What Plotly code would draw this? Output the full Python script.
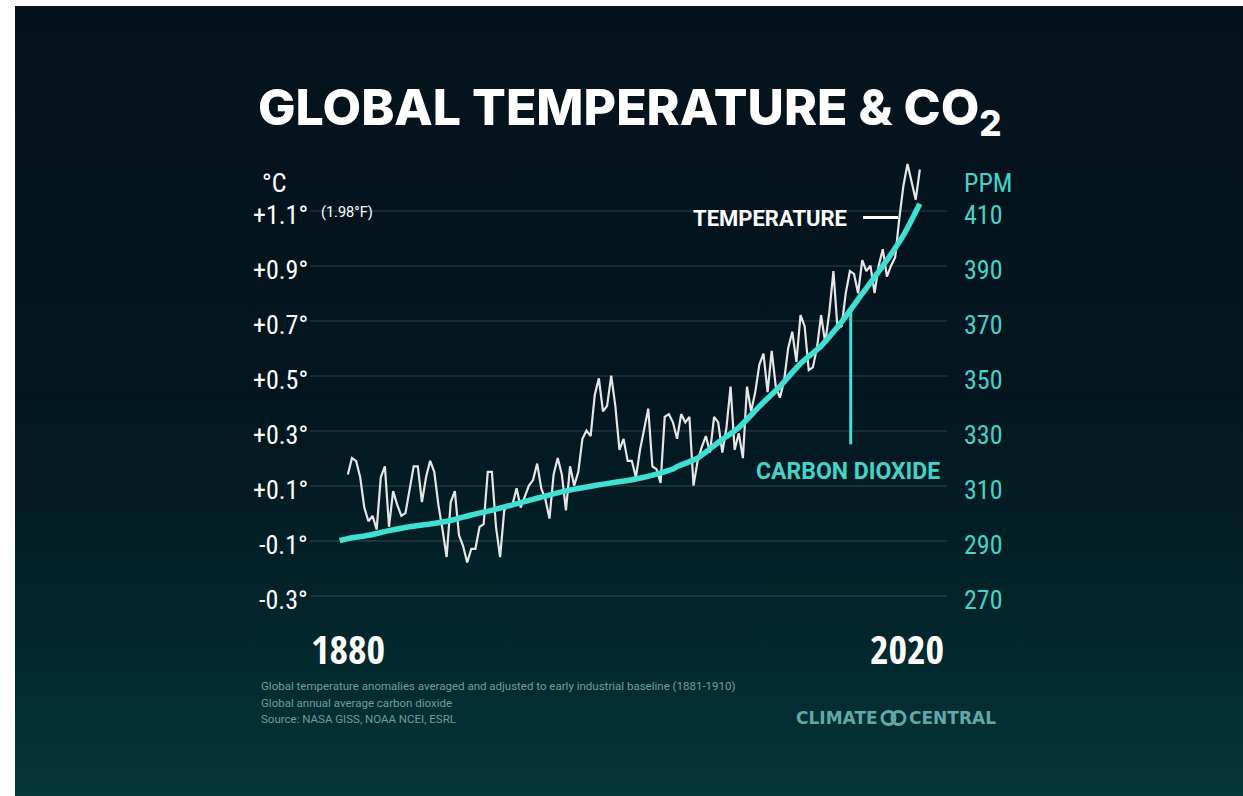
import base64
import plotly.graph_objects as go

# ---------------- data ----------------
temp_years = list(range(1880, 2020))
temp_anom = [
    0.14, 0.20, 0.19, 0.13, 0.02, -0.03, -0.01, -0.06, 0.13, 0.17,
    -0.05, 0.08, 0.03, -0.01, 0.00, 0.08, 0.17, 0.17, 0.04, 0.13,
    0.19, 0.15, 0.03, -0.06, -0.16, 0.04, 0.08, -0.08, -0.12, -0.18,
    -0.13, -0.13, -0.05, -0.04, 0.15, 0.15, -0.05, -0.16, 0.01, 0.03,
    0.03, 0.09, 0.02, 0.06, 0.10, 0.12, 0.18, 0.09, 0.05, -0.02,
    0.14, 0.20, 0.14, 0.01, 0.17, 0.10, 0.15, 0.27, 0.30, 0.28,
    0.43, 0.49, 0.37, 0.39, 0.50, 0.39, 0.23, 0.27, 0.19, 0.19,
    0.13, 0.23, 0.31, 0.38, 0.17, 0.16, 0.11, 0.35, 0.36, 0.33,
    0.27, 0.36, 0.33, 0.35, 0.10, 0.19, 0.24, 0.28, 0.22, 0.35,
    0.33, 0.22, 0.31, 0.46, 0.23, 0.29, 0.20, 0.46, 0.37, 0.44,
    0.54, 0.58, 0.44, 0.59, 0.46, 0.42, 0.48, 0.60, 0.66, 0.55,
    0.72, 0.68, 0.52, 0.53, 0.60, 0.72, 0.62, 0.73, 0.88, 0.67,
    0.68, 0.80, 0.88, 0.87, 0.80, 0.92, 0.88, 0.90, 0.80, 0.90,
    0.96, 0.86, 0.90, 0.93, 1.07, 1.19, 1.27, 1.21, 1.14, 1.25,
]

co2_years = [1878, 1880, 1885, 1890, 1895, 1900, 1905, 1910, 1915, 1920,
             1925, 1930, 1935, 1940, 1945, 1950, 1955, 1959, 1960, 1965,
             1970, 1975, 1980, 1985, 1990, 1995, 2000, 2005, 2010, 2015, 2019]
co2_ppm = [290.0, 290.7, 291.9, 293.6, 295.0, 296.0, 297.3, 299.3, 301.0, 303.0,
           305.0, 307.0, 308.7, 310.0, 311.2, 312.4, 314.2, 316.0, 316.9, 320.0,
           325.7, 331.1, 338.8, 346.1, 354.4, 360.8, 369.6, 379.8, 389.9, 401.0, 412.5]

temp_tick_vals = [-0.3, -0.1, 0.1, 0.3, 0.5, 0.7, 0.9, 1.1]
temp_tick_text = ["-0.3°", "-0.1°", "+0.1°", "+0.3°", "+0.5°", "+0.7°", "+0.9°", "+1.1°"]
ppm_tick_vals = [270, 290, 310, 330, 350, 370, 390, 410]
ppm_tick_text = ["270", "290", "310", "330", "350", "370", "390", "410"]
year_labels = ["1880", "2020"]

title_text = "GLOBAL TEMPERATURE &amp; CO<sub>2</sub>"
footnotes = [
    "Global temperature anomalies averaged and adjusted to early industrial baseline (1881-1910)",
    "Global annual average carbon dioxide",
    "Source: NASA GISS, NOAA NCEI, ESRL",
]

# ---------------- layout geometry ----------------
W, H = 1243, 796
L, R, T, B = 310, 947, 142, 623


def px(x):
    return (x - L) / (R - L)


def py(y):
    return (B - y) / (B - T)


TEAL = "#3fe0d3"
TEAL_TXT = "#45d3c9"
TICK_FONT = "Roboto Condensed, DejaVu Sans Condensed, Roboto, sans-serif"
YEAR_FONT = "Open Sans Condensed, Roboto Condensed, sans-serif"
TITLE_FONT = "Inter, Lato, Roboto, sans-serif"
BOLD_FONT = "Roboto, Lato, sans-serif"
LOGO_FONT = "DejaVu Sans, sans-serif"
LOGO_COLOR = "#62a8a9"

svg = ('<svg xmlns="http://www.w3.org/2000/svg" width="100" height="100" preserveAspectRatio="none">'
       '<defs><linearGradient id="g" x1="0" y1="0" x2="0" y2="1">'
       '<stop offset="0" stop-color="#05121c"/>'
       '<stop offset="0.5" stop-color="#03161f"/>'
       '<stop offset="0.78" stop-color="#03252b"/>'
       '<stop offset="1" stop-color="#04373a"/>'
       '</linearGradient></defs><rect width="100" height="100" fill="url(#g)"/></svg>')
bg_src = "data:image/svg+xml;base64," + base64.b64encode(svg.encode()).decode()

fig = go.Figure()
fig.add_trace(go.Scatter(x=temp_years, y=temp_anom, mode="lines",
                         line=dict(color="#e6e6e6", width=2.2), yaxis="y",
                         hoverinfo="skip", showlegend=False))
fig.add_trace(go.Scatter(x=co2_years, y=co2_ppm, mode="lines",
                         line=dict(color=TEAL, width=5.5, shape="spline", smoothing=0.6),
                         yaxis="y2", hoverinfo="skip", showlegend=False))

ann = []
ann.append(dict(text=title_text, xref="paper", yref="paper",
                x=px(256), y=py(111), xanchor="left", yanchor="middle", showarrow=False,
                font=dict(family=TITLE_FONT, size=50, color="white", weight=800)))
# axis tick labels (drawn through the axis scales, nudged just under each gridline)
for v, t in zip(temp_tick_vals, temp_tick_text):
    ann.append(dict(text=t, xref="paper", yref="y", x=px(310), y=v, yshift=-4,
                    xanchor="right", yanchor="middle", showarrow=False,
                    font=dict(family=TICK_FONT, size=26, color="white")))
for v, t in zip(ppm_tick_vals, ppm_tick_text):
    ann.append(dict(text=t, xref="paper", yref="y2", x=px(962), y=v, yshift=-4,
                    xanchor="left", yanchor="middle", showarrow=False,
                    font=dict(family=TICK_FONT, size=26, color=TEAL_TXT)))
ann.append(dict(text="°C", xref="paper", yref="paper", x=px(260), y=py(183),
                xanchor="left", yanchor="middle", showarrow=False,
                font=dict(family=TICK_FONT, size=26, color="white")))
ann.append(dict(text="PPM", xref="paper", yref="paper", x=px(962), y=py(183),
                xanchor="left", yanchor="middle", showarrow=False,
                font=dict(family=TICK_FONT, size=26, color=TEAL_TXT)))
ann.append(dict(text="(1.98°F)", xref="paper", yref="paper", x=px(319), y=py(213),
                xanchor="left", yanchor="middle", showarrow=False,
                font=dict(family="Roboto, sans-serif", size=14.5, color="white")))
ann.append(dict(text=year_labels[0], xref="x", yref="paper", x=temp_years[0], y=py(648),
                xanchor="center", yanchor="middle", showarrow=False,
                font=dict(family=YEAR_FONT, size=40, color="white", weight="bold")))
ann.append(dict(text=year_labels[1], xref="paper", yref="paper", x=px(946), y=py(648),
                xanchor="right", yanchor="middle", showarrow=False,
                font=dict(family=YEAR_FONT, size=40, color="white", weight="bold")))
ann.append(dict(text="<b>TEMPERATURE</b>", xref="paper", yref="paper", x=px(849), y=py(218),
                xanchor="right", yanchor="middle", showarrow=False,
                font=dict(family=BOLD_FONT, size=22, color="white")))
ann.append(dict(text="<b>CARBON DIOXIDE</b>", xref="paper", yref="paper", x=px(754), y=py(472),
                xanchor="left", yanchor="middle", showarrow=False,
                font=dict(family=BOLD_FONT, size=23, color=TEAL_TXT)))
for i, line in enumerate(footnotes):
    ann.append(dict(text=line, xref="paper", yref="paper", x=px(259), y=py(686 + 16.5 * i),
                    xanchor="left", yanchor="middle", showarrow=False,
                    font=dict(family="Roboto, sans-serif", size=11.5, color="#6f9c9e")))
ann.append(dict(text="<b>CLIMATE</b>", xref="paper", yref="paper", x=px(880), y=py(718),
                xanchor="right", yanchor="middle", showarrow=False,
                font=dict(family=LOGO_FONT, size=17, color=LOGO_COLOR)))
ann.append(dict(text="<b>CENTRAL</b>", xref="paper", yref="paper", x=px(907), y=py(718),
                xanchor="left", yanchor="middle", showarrow=False,
                font=dict(family=LOGO_FONT, size=17, color=LOGO_COLOR)))

shapes = []
shapes.append(dict(type="line", xref="x", yref="y", x0=2005.2, x1=2013.7, y0=1.075, y1=1.075,
                   line=dict(color="white", width=3)))
shapes.append(dict(type="line", xref="x", yref="y2", x0=2002.2, x1=2002.2, y0=375.0, y1=325,
                   line=dict(color=TEAL, width=3)))
shapes.append(dict(type="circle", xref="paper", yref="paper",
                   x0=px(882), x1=px(895), y0=py(724.5), y1=py(711.5),
                   line=dict(color=LOGO_COLOR, width=3)))
shapes.append(dict(type="circle", xref="paper", yref="paper",
                   x0=px(892), x1=px(905), y0=py(724.5), y1=py(711.5),
                   line=dict(color=LOGO_COLOR, width=3)))

fig.update_layout(
    width=W, height=H, autosize=False,
    margin=dict(l=L, r=W - R, t=T, b=H - B, autoexpand=False),
    paper_bgcolor="white", plot_bgcolor="rgba(0,0,0,0)",
    images=[dict(source=bg_src, xref="paper", yref="paper", x=px(15), y=py(6),
                 sizex=(W - 15) / (R - L), sizey=(H - 6) / (B - T),
                 xanchor="left", yanchor="top", sizing="stretch", layer="below")],
    xaxis=dict(range=[1870.8, 2025.6], showgrid=False, zeroline=False, showline=False,
               showticklabels=False, ticks=""),
    yaxis=dict(range=[-0.4, 1.35], tickvals=temp_tick_vals,
               showgrid=True, gridcolor="rgba(255,255,255,0.09)", gridwidth=1.5,
               zeroline=False, showline=False, ticks="", showticklabels=False),
    yaxis2=dict(range=[260, 435], overlaying="y", side="right", tickvals=ppm_tick_vals,
                showgrid=False, zeroline=False, showline=False,
                ticks="", showticklabels=False),
    annotations=ann, shapes=shapes,
)

fig.write_html("out.html", config={"displayModeBar": False},
               post_script="document.body.style.margin='0px';document.body.style.overflow='hidden';")
